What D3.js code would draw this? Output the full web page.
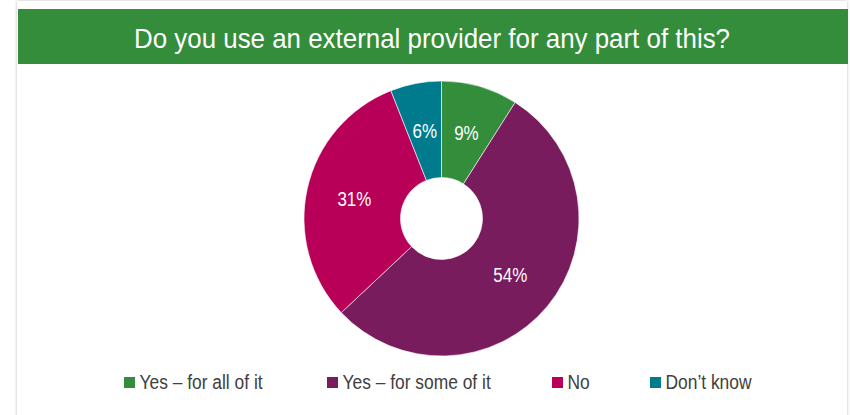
<!DOCTYPE html>
<html>
<head>
<meta charset="utf-8">
<script src="https://cdn.jsdelivr.net/npm/d3@7/dist/d3.min.js"></script>
<style>
  html, body { margin: 0; padding: 0; background: #ffffff; }
  svg { display: block; }
  .narrow { font-family: "Liberation Sans", Arial, sans-serif; }
</style>
</head>
<body>
<svg id="chart" width="850" height="415"></svg>
<script>
// Survey answers and their shares (percent)
const categories = ["Yes \u2013 for all of it", "Yes \u2013 for some of it", "No", "Don\u2019t know"];
const values = [9, 54, 31, 6];
const colors = ["#338d3b", "#781c5e", "#b80058", "#007b8e"];
const title = "Do you use an external provider for any part of this?";

const W = 850, H = 415;
const NARROW = 0.87; // horizontal squeeze giving a condensed face
const svg = d3.select("#chart");

// Card with a soft shadow on its edges
const defs = svg.append("defs");
const f = defs.append("filter").attr("id", "cardShadow")
  .attr("x", "-5%").attr("y", "-5%").attr("width", "110%").attr("height", "110%");
f.append("feDropShadow").attr("dx", 0).attr("dy", 0).attr("stdDeviation", 1.6)
  .attr("flood-color", "#000").attr("flood-opacity", 0.28);

svg.append("rect").attr("x", 17).attr("y", 1).attr("width", 830).attr("height", H + 10)
  .attr("fill", "#ffffff").attr("filter", "url(#cardShadow)");

// Title banner
svg.append("rect").attr("x", 18).attr("y", 9).attr("width", 830).attr("height", 55)
  .attr("fill", "#338d3b");
svg.append("text").attr("class", "narrow")
  .attr("x", 432).attr("y", 47.5)
  .attr("text-anchor", "middle")
  .attr("fill", "#ffffff")
  .attr("font-size", 28)
  .attr("textLength", 596).attr("lengthAdjust", "spacingAndGlyphs")
  .text(title);

// Donut
const cx = 441.5, cy = 218.5, rOuter = 137.5, rInner = 41;
const pie = d3.pie().sort(null).value(d => d);
const arcs = pie(values);
const arc = d3.arc().innerRadius(rInner).outerRadius(rOuter);

const g = svg.append("g").attr("transform", `translate(${cx},${cy})`);
g.selectAll("path.slice").data(arcs).enter().append("path")
  .attr("class", "slice")
  .attr("d", arc)
  .attr("fill", (d, i) => colors[i])
  .attr("stroke", "#ffffff").attr("stroke-width", 0.6);

g.selectAll("text.val").data(arcs).enter().append("text")
  .attr("class", "val narrow")
  .attr("transform", d => { const c = arc.centroid(d); return `translate(${c[0]},${c[1]}) scale(${NARROW},1)`; })
  .attr("text-anchor", "middle")
  .attr("dy", "0.36em")
  .attr("fill", "#ffffff")
  .attr("font-size", 19.5)
  .text(d => d.data + "%");

// Legend
const legendX = [124, 327, 552, 650];
const leg = svg.append("g");
const items = leg.selectAll("g").data(categories).enter().append("g")
  .attr("transform", (d, i) => `translate(${legendX[i]},377)`);
items.append("rect").attr("width", 11).attr("height", 11)
  .attr("fill", (d, i) => colors[i]);
items.append("text").attr("class", "narrow")
  .attr("transform", `translate(15.5,12.3) scale(${NARROW},1)`)
  .attr("fill", "#404040")
  .attr("font-size", 20)
  .text(d => d);
</script>
</body>
</html>
